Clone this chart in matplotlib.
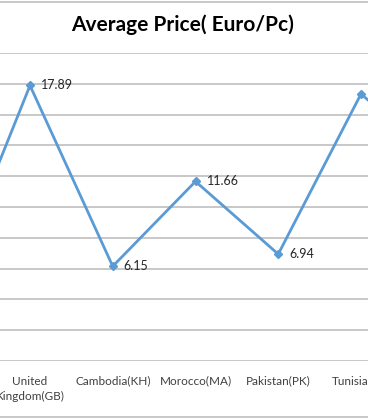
import matplotlib.pyplot as plt
from matplotlib.lines import Line2D

countries = ['China(CN)', 'United\nKingdom(GB)', 'Cambodia(KH)', 'Morocco(MA)',
             'Pakistan(PK)', 'Tunisia(TN)', 'Turkey(TR)']
prices = [4.5, 17.89, 6.15, 11.66, 6.94, 17.34, 12.7]
yticks = list(range(0, 22, 2))

plt.rcParams['font.family'] = ['Lato', 'DejaVu Sans']

fig = plt.figure(figsize=(3.68, 4.19), dpi=100)
ax = fig.add_axes([0, 58 / 419, 1, 308 / 419])

x = list(range(len(countries)))
ax.plot(x, prices, color='#5B9BD5', lw=2, marker='D', ms=4, zorder=3)
for xi, v in zip(x, prices):
    ax.annotate(f'{v:.2f}', (xi, v), xytext=(8, 0), textcoords='offset points',
                va='center', ha='left', fontsize=9, color='#262626')

ax.set_yticks(yticks)
ax.set_xticks(x)
ax.set_xticklabels(countries, fontsize=8.5, color='#404040', linespacing=1.5)
ax.set_xlim(1 - 30 / 82.75, 1 + 338 / 82.75)
ax.set_ylim(0, 20)
ax.tick_params(left=False, labelleft=False, bottom=False, pad=7)
ax.grid(axis='y', color='#BFBFBF', lw=1.2)
ax.set_axisbelow(True)
for s in ax.spines.values():
    s.set_visible(False)

fig.text(0.497, 0.94, 'Average Price( Euro/Pc)', ha='center', va='center',
         fontsize=15, fontweight='bold', color='black')
for yf in (1 - 1.7 / 419, 1 - 417 / 419):
    fig.add_artist(Line2D([0, 1], [yf, yf], color='#BFBFBF', lw=1.2))

fig.savefig('out.png', dpi=100)
